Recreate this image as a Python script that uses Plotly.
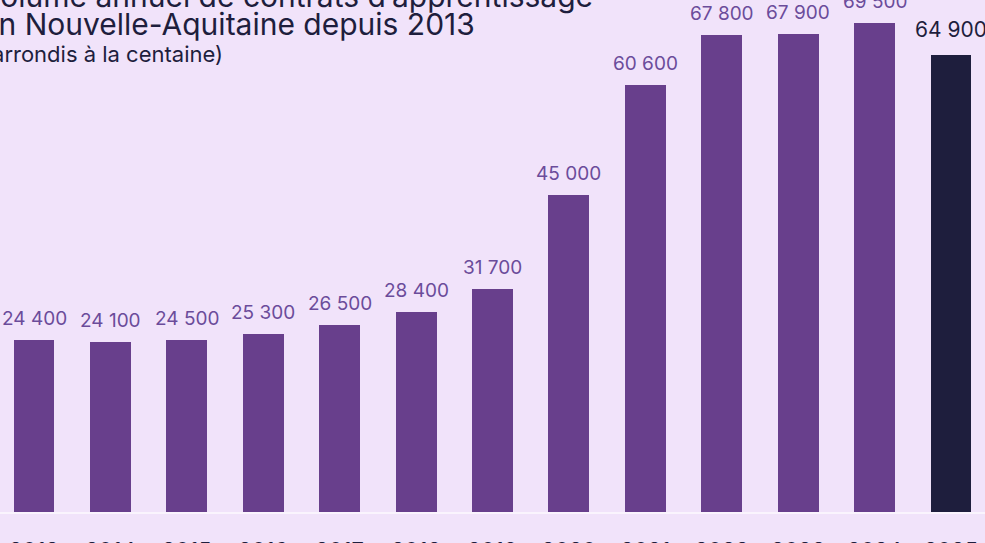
import plotly.graph_objects as go

years = ["2013", "2014", "2015", "2016", "2017", "2018", "2019",
         "2020", "2021", "2022", "2023", "2024", "2025"]
values = [24400, 24100, 24500, 25300, 26500, 28400, 31700,
          45000, 60600, 67800, 67900, 69500, 64900]
labels = ["24 400", "24 100", "24 500", "25 300", "26 500", "28 400", "31 700",
          "45 000", "60 600", "67 800", "67 900", "69 500", "64 900"]

title_lines = ["Volume annuel de contrats d\u2019apprentissage",
               "en Nouvelle-Aquitaine depuis 2013"]
subtitle = "(arrondis à la centaine)"

BG = "#F1E3FA"
PURPLE = "#683F8C"
DARK = "#1E1E3D"
LABEL_PURPLE = "#6B4C9A"
FONT = "Inter"

xs = list(range(len(years)))
colors = [PURPLE] * (len(years) - 1) + [DARK]

fig = go.Figure()
fig.add_trace(go.Bar(
    x=xs, y=values, width=0.536,
    marker=dict(color=colors, line=dict(width=0)),
    hoverinfo="skip",
))

for i, (v, t) in enumerate(zip(values, labels)):
    last = i == len(values) - 1
    fig.add_annotation(
        x=i, y=v, xref="x", yref="y", text=t, showarrow=False,
        yanchor="bottom", yshift=8 if not last else 11,
        font=dict(family=FONT, size=19 if not last else 21,
                  color=DARK if last else LABEL_PURPLE),
    )

H = 512.0
def py(px):
    return 1 - px / H

XT = -21 / 985
fig.add_annotation(text=title_lines[0], xref="paper", yref="paper",
                   x=XT, y=py(7), xanchor="left", yanchor="bottom",
                   yshift=-9, showarrow=False,
                   font=dict(family=FONT, size=30, color=DARK))
fig.add_annotation(text=title_lines[1], xref="paper", yref="paper",
                   x=XT, y=py(35), xanchor="left", yanchor="bottom",
                   yshift=-9, showarrow=False,
                   font=dict(family=FONT, size=30, color=DARK))
fig.add_annotation(text=subtitle, xref="paper", yref="paper",
                   x=-18 / 985, y=py(63), xanchor="left", yanchor="bottom",
                   yshift=-6, showarrow=False,
                   font=dict(family=FONT, size=22, color=DARK))

fig.update_layout(
    width=985, height=543,
    margin=dict(l=0, r=0, t=0, b=31),
    paper_bgcolor=BG, plot_bgcolor=BG,
    showlegend=False,
    bargap=0,
    xaxis=dict(range=[-0.445, 12.445], tickvals=xs, ticktext=years,
               showgrid=False, zeroline=False, ticks="",
               showline=True, linecolor="#FAF4FD", linewidth=2,
               tickfont=dict(family=FONT, size=22, color=DARK),
               ticklabelstandoff=18, automargin=False, fixedrange=True),
    yaxis=dict(range=[0, 72727], visible=False, automargin=False,
               fixedrange=True),
)

fig.write_html("out.html")
